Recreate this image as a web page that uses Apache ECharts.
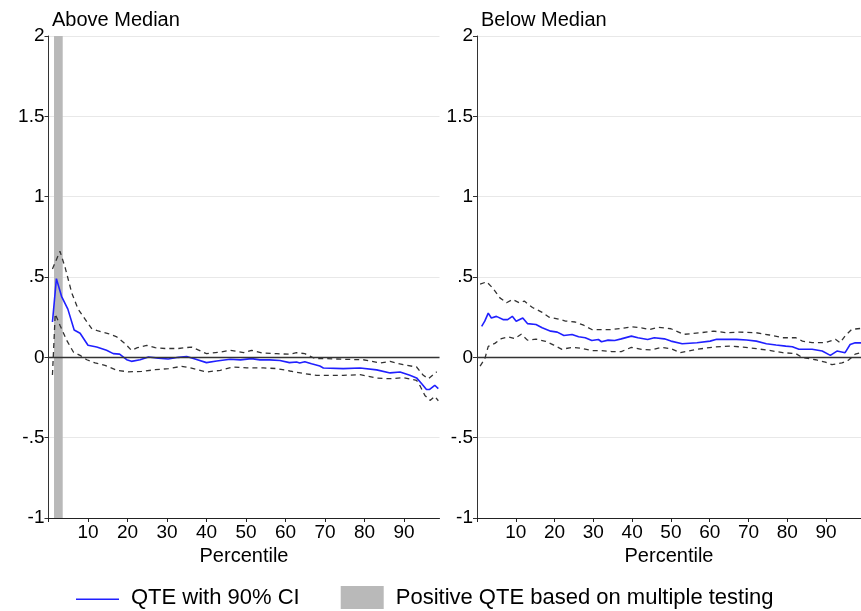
<!DOCTYPE html>
<html>
<head>
<meta charset="utf-8">
<script src="https://cdn.jsdelivr.net/npm/echarts@6/dist/echarts.min.js"></script>
<style>
  html, body { margin: 0; padding: 0; background: #fff; }
  #chart { width: 861px; height: 611px; }
</style>
</head>
<body>
<div id="chart"></div>
<script>
  // values: [percentile, effect]
  const aboveQte = [[1,0.22],[2,0.49],[3.3,0.38],[4.9,0.30],[6.5,0.17],[8,0.15],[10,0.075],[12.2,0.064],[14.7,0.044],[16.4,0.023],[18,0.02],[19.8,-0.015],[21,-0.025],[23.2,-0.015],[25.3,0.002],[27.8,-0.005],[30.3,-0.01],[32.9,0],[35,0.005],[37.1,-0.01],[40,-0.033],[42.6,-0.023],[46,-0.012],[48.6,-0.016],[51.4,-0.008],[53.5,-0.016],[56,-0.016],[58.6,-0.02],[61,-0.033],[62.8,-0.029],[63.6,-0.035],[64.9,-0.027],[66.6,-0.04],[68.7,-0.054],[69.6,-0.066],[74.6,-0.07],[78.9,-0.066],[83.1,-0.078],[86.5,-0.097],[89,-0.091],[91.5,-0.112],[93.2,-0.128],[94.5,-0.164],[95.7,-0.2],[96.5,-0.2],[97.8,-0.174],[98.7,-0.195]];
  const aboveUpper = [[1,0.55],[2.9,0.66],[4.2,0.56],[5.9,0.40],[7.5,0.30],[9.2,0.24],[10.9,0.18],[12.6,0.164],[15.1,0.148],[17.3,0.127],[19.4,0.085],[21,0.044],[22.5,0.06],[24.9,0.075],[27,0.06],[29.5,0.055],[32.9,0.055],[36.2,0.064],[40,0.023],[43.5,0.033],[46,0.044],[49.4,0.029],[51.4,0.044],[54,0.027],[57.8,0.023],[61.1,0.019],[62.8,0.029],[64.9,0.023],[67.5,-0.008],[70.4,-0.008],[74.6,-0.012],[79.7,-0.015],[83.9,-0.035],[86.5,-0.025],[89.8,-0.046],[93.2,-0.06],[94.9,-0.112],[96.2,-0.133],[98.3,-0.09]];
  const aboveLower = [[1,-0.11],[1.7,0.27],[2.9,0.2],[4.6,0.106],[6.3,0.033],[8,0.012],[9.7,-0.015],[11.8,-0.035],[14.3,-0.05],[17.3,-0.081],[20.2,-0.09],[23.6,-0.088],[27,-0.077],[30.4,-0.07],[33.7,-0.056],[35.8,-0.065],[40,-0.091],[43.5,-0.081],[46.8,-0.06],[50.2,-0.066],[54.4,-0.066],[57.8,-0.07],[61.1,-0.085],[64.5,-0.1],[67.9,-0.112],[70.4,-0.112],[74.6,-0.112],[78.9,-0.108],[83.1,-0.129],[86.5,-0.133],[89.8,-0.127],[93.2,-0.143],[94,-0.174],[95.3,-0.237],[96.6,-0.268],[97.8,-0.243],[98.7,-0.27]];

  const belowQte = [[1.2,0.193],[2,0.225],[2.9,0.275],[3.7,0.245],[5,0.255],[6.7,0.235],[7.9,0.235],[9.1,0.255],[10.1,0.225],[11.8,0.245],[13,0.21],[15.2,0.204],[16.8,0.184],[19,0.163],[20.7,0.157],[22.4,0.136],[24.5,0.142],[26.2,0.128],[27.9,0.122],[29.6,0.105],[31.3,0.111],[32.1,0.097],[33.8,0.107],[35.5,0.105],[37.2,0.115],[39.8,0.132],[41.5,0.122],[44,0.111],[45.7,0.122],[48.3,0.115],[50,0.101],[52.9,0.085],[56.7,0.091],[60.1,0.101],[61.8,0.112],[64.4,0.112],[66.9,0.112],[69.5,0.108],[72,0.101],[74.6,0.085],[77.1,0.077],[79.6,0.07],[81.3,0.066],[83,0.05],[86.4,0.05],[89,0.039],[91.1,0.012],[92.8,0.039],[94.9,0.029],[96.2,0.08],[97.5,0.091],[99,0.09]];
  const belowUpper = [[0.8,0.455],[2.5,0.47],[4.1,0.43],[5.9,0.37],[7.6,0.34],[9.2,0.36],[10.9,0.34],[12.2,0.35],[14.3,0.31],[16.8,0.28],[18.6,0.25],[20.7,0.24],[22.8,0.226],[25.3,0.22],[27.5,0.2],[29.6,0.173],[32.1,0.173],[34.7,0.173],[37.2,0.18],[39.8,0.19],[42.4,0.184],[44.5,0.173],[46.6,0.187],[50,0.178],[53.3,0.143],[57.6,0.153],[61,0.163],[64.4,0.153],[67.8,0.157],[72,0.153],[75.4,0.139],[78.8,0.122],[82.2,0.122],[83.9,0.101],[86.4,0.091],[89.8,0.091],[92.4,0.112],[93.6,0.091],[94.9,0.133],[96.6,0.174],[99,0.18]];
  const belowLower = [[0.8,-0.055],[2,-0.01],[2.9,0.068],[4.6,0.087],[6.3,0.117],[8,0.127],[9.7,0.117],[11.4,0.144],[13,0.107],[15.2,0.113],[17.7,0.1],[19.8,0.076],[21.9,0.05],[24.5,0.062],[27,0.056],[29.6,0.042],[32.1,0.042],[34.7,0.036],[37.2,0.036],[39.8,0.062],[42.4,0.05],[44.9,0.046],[47.5,0.062],[50,0.054],[52.4,0.029],[56.7,0.05],[61,0.064],[65.2,0.07],[68.6,0.064],[72,0.054],[75.4,0.043],[78.8,0.029],[82.2,0.023],[83.9,-0.002],[87.3,-0.015],[89.8,-0.03],[91.5,-0.046],[94.1,-0.035],[95.8,-0.017],[97.5,0.02],[99,0.03]];

  // percentiles flagged positive by multiple testing (shaded band)
  const positiveBand = [1.4, 3.6];
  const panelTitles = ['Above Median', 'Below Median'];

  const FONT = 'Liberation Sans, Helvetica, Arial, sans-serif';
  const QTE_NAME = 'QTE with 90% CI';
  const BAND_NAME = 'Positive QTE based on multiple testing';
  // thin line inside a 43x23 box (tiny corner specks keep the box size)
  const LINE_ICON = 'path://M0 0L0.01 0L0 0.01Z M0 12.4H43V14H0Z M43 23L42.99 23L43 22.99Z';

  const chart = echarts.init(document.getElementById('chart'));

  const yFmt = v => String(v).replace('0.', '.');

  function xAxisCfg(idx) {
    return {
      gridIndex: idx,
      type: 'value',
      min: 0,
      max: 99,
      interval: 10,
      name: 'Percentile',
      nameLocation: 'middle',
      nameGap: 24,
      nameTextStyle: { fontSize: 20, color: '#000', fontFamily: FONT },
      axisLine: { show: true, onZero: false, lineStyle: { color: '#222', width: 1 } },
      axisTick: { show: true, length: 4, lineStyle: { color: '#222' } },
      axisLabel: {
        fontSize: 19, color: '#000', fontFamily: FONT, margin: 5,
        showMaxLabel: false,
        formatter: v => (v === 0 ? '' : v)
      },
      splitLine: { show: false }
    };
  }

  function yAxisCfg(idx) {
    return {
      gridIndex: idx,
      type: 'value',
      min: -1,
      max: 2,
      interval: 0.5,
      axisLine: { show: true, lineStyle: { color: '#333', width: 1 } },
      axisTick: { show: true, length: 4, lineStyle: { color: '#333' } },
      axisLabel: { fontSize: 19, color: '#000', fontFamily: FONT, margin: 4, formatter: yFmt },
      splitLine: { show: true, lineStyle: { color: '#e8e8e8', width: 1 } }
    };
  }

  function ciSeries(idx, data) {
    return {
      type: 'line',
      xAxisIndex: idx,
      yAxisIndex: idx,
      data: data,
      symbol: 'none',
      silent: true,
      z: 3,
      lineStyle: { color: '#333', width: 1.3, type: [5, 4] }
    };
  }

  const zeroLine = {
    silent: true,
    symbol: 'none',
    label: { show: false },
    lineStyle: { color: '#333', width: 1.3, type: 'solid' },
    data: [{ yAxis: 0 }]
  };

  const titleStyle = { fontSize: 20, fontWeight: 'normal', color: '#000', fontFamily: FONT };

  const option = {
    animation: false,
    backgroundColor: '#fff',
    title: [
      { text: panelTitles[0], left: 52, top: 10, padding: 0, textStyle: titleStyle },
      { text: panelTitles[1], left: 481, top: 10, padding: 0, textStyle: titleStyle }
    ],
    legend: {
      left: 76,
      top: 586,
      padding: 0,
      itemWidth: 43,
      itemHeight: 23,
      itemGap: 41,
      textStyle: { fontSize: 22, color: '#000', fontFamily: FONT, padding: [0, 0, 0, 7] },
      data: [
        { name: QTE_NAME, icon: LINE_ICON },
        { name: BAND_NAME, icon: 'rect' }
      ]
    },
    grid: [
      { left: 48.5, right: 421.5, top: 36, bottom: 93 },
      { left: 477, right: -5, top: 36, bottom: 93 }
    ],
    xAxis: [xAxisCfg(0), xAxisCfg(1)],
    yAxis: [yAxisCfg(0), yAxisCfg(1)],
    series: [
      {
        name: BAND_NAME,
        type: 'bar',
        xAxisIndex: 0,
        yAxisIndex: 0,
        data: [],
        itemStyle: { color: '#b9b9b9' }
      },
      ciSeries(0, aboveUpper),
      ciSeries(0, aboveLower),
      {
        name: QTE_NAME,
        type: 'line',
        xAxisIndex: 0,
        yAxisIndex: 0,
        data: aboveQte,
        symbol: 'none',
        z: 4,
        lineStyle: { color: '#2020ff', width: 1.6 },
        itemStyle: { color: '#2020ff' },
        markLine: zeroLine,
        markArea: {
          silent: true,
          itemStyle: { color: '#b9b9b9' },
          data: [[{ xAxis: positiveBand[0] }, { xAxis: positiveBand[1] }]]
        }
      },
      ciSeries(1, belowUpper),
      ciSeries(1, belowLower),
      {
        name: QTE_NAME,
        type: 'line',
        xAxisIndex: 1,
        yAxisIndex: 1,
        data: belowQte,
        symbol: 'none',
        z: 4,
        lineStyle: { color: '#2020ff', width: 1.6 },
        itemStyle: { color: '#2020ff' },
        markLine: zeroLine
      }
    ]
  };

  chart.setOption(option);
</script>
</body>
</html>
